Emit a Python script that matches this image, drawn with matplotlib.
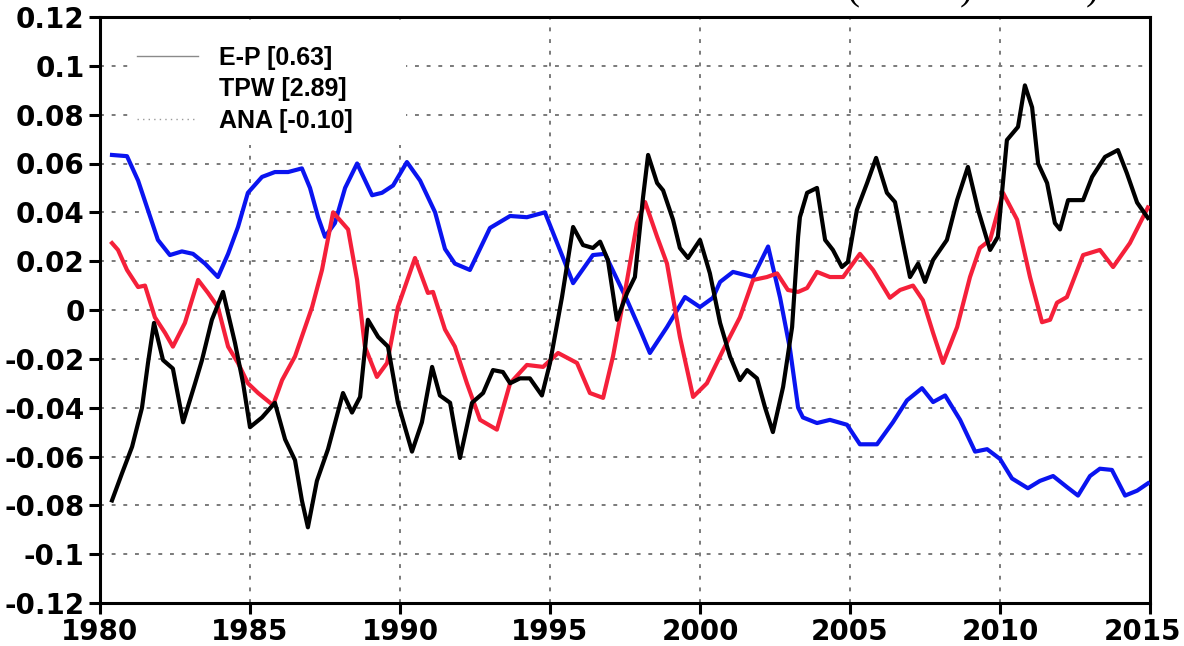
import matplotlib
matplotlib.use("Agg")
import matplotlib.pyplot as plt
import matplotlib.transforms as mtransforms
from matplotlib.lines import Line2D
from matplotlib.patches import Rectangle

# ---- data ----
blue_years = [1980.4, 1980.9, 1981.27, 1981.93, 1982.33, 1982.73, 1983.1, 1983.5, 1983.93,
              1984.27, 1984.6, 1984.93, 1985.4, 1985.83, 1986.27, 1986.73, 1987.0, 1987.27,
              1987.5, 1987.83, 1988.17, 1988.57, 1989.07, 1989.4, 1989.77, 1990.23, 1990.67,
              1991.17, 1991.5, 1991.83, 1992.33, 1993.0, 1993.67, 1994.23, 1994.83, 1995.33,
              1995.77, 1996.43, 1996.83, 1997.57, 1998.0, 1998.33, 1998.9, 1999.5, 2000.0,
              2000.43, 2000.67, 2001.1, 2001.77, 2002.27, 2002.67, 2003.0, 2003.27, 2003.43,
              2003.9, 2004.33, 2004.9, 2005.33, 2005.9, 2006.43, 2006.9, 2007.4, 2007.77,
              2008.17, 2008.67, 2009.17, 2009.57, 2010.0, 2010.4, 2010.93, 2011.33, 2011.77,
              2012.23, 2012.6, 2013.0, 2013.33, 2013.73, 2014.17, 2014.57, 2014.93]
blue_vals = [0.0635, 0.063, 0.053, 0.0287, 0.0225, 0.024, 0.023, 0.019, 0.0135,
             0.023, 0.034, 0.048, 0.0545, 0.0565, 0.0565, 0.058, 0.050, 0.038,
             0.030, 0.0356, 0.050, 0.060, 0.047, 0.048, 0.051, 0.0606, 0.053,
             0.040, 0.025, 0.019, 0.0164, 0.0336, 0.0385, 0.038, 0.040, 0.0246,
             0.011, 0.0225, 0.023, 0.004, -0.008, -0.0176, -0.007, 0.0053, 0.0012,
             0.005, 0.0115, 0.0156, 0.0135, 0.026, 0.005, -0.016, -0.040, -0.044,
             -0.0463, -0.045, -0.047, -0.055, -0.055, -0.046, -0.037, -0.032, -0.0377,
             -0.035, -0.045, -0.058, -0.057, -0.061, -0.069, -0.073, -0.070, -0.068,
             -0.0725, -0.076, -0.068, -0.065, -0.0655, -0.076, -0.074, -0.071]

red_years = [1980.4, 1980.6, 1980.9, 1981.27, 1981.5, 1981.83, 1982.17, 1982.43, 1982.83,
             1983.27, 1983.6, 1983.93, 1984.27, 1984.6, 1984.93, 1985.27, 1985.77, 1986.07,
             1986.5, 1987.07, 1987.4, 1987.77, 1988.27, 1988.57, 1988.83, 1989.23, 1989.57,
             1989.93, 1990.5, 1990.93, 1991.1, 1991.5, 1991.83, 1992.23, 1992.67, 1993.23,
             1993.67, 1994.23, 1994.77, 1995.27, 1995.9, 1996.33, 1996.77, 1997.1, 1997.57,
             1997.9, 1998.17, 1998.57, 1998.9, 1999.33, 1999.77, 2000.23, 2000.77, 2001.33,
             2001.77, 2002.23, 2002.57, 2002.93, 2003.27, 2003.57, 2003.9, 2004.33, 2004.77,
             2005.33, 2005.77, 2006.33, 2006.67, 2007.1, 2007.43, 2007.77, 2008.1, 2008.57,
             2009.0, 2009.33, 2009.67, 2010.1, 2010.57, 2011.0, 2011.4, 2011.67, 2011.9,
             2012.23, 2012.77, 2013.33, 2013.77, 2014.33, 2014.93]
red_vals = [0.0274, 0.0246, 0.0164, 0.0094, 0.010, -0.003, -0.0094, -0.015, -0.0053,
            0.0123, 0.007, 0.0012, -0.015, -0.0217, -0.030, -0.034, -0.039, -0.0287,
            -0.019, 0.0012, 0.0164, 0.040, 0.033, 0.0123, -0.015, -0.0274, -0.0217,
            0.0012, 0.0213, 0.007, 0.0074, -0.008, -0.015, -0.030, -0.045, -0.049,
            -0.030, -0.0225, -0.0233, -0.0176, -0.0217, -0.034, -0.036, -0.019, 0.0123,
            0.0356, 0.0442, 0.030, 0.019, -0.011, -0.0356, -0.030, -0.0164, -0.003,
            0.0123, 0.0135, 0.015, 0.0082, 0.0074, 0.009, 0.0156, 0.0135, 0.0135,
            0.023, 0.0164, 0.005, 0.0082, 0.010, 0.004, -0.0094, -0.0217, -0.007,
            0.0135, 0.0254, 0.0287, 0.048, 0.037, 0.0135, -0.005, -0.004, 0.003,
            0.0053, 0.0225, 0.0246, 0.0176, 0.0274, 0.042]

black_years = [1980.4, 1980.73, 1981.07, 1981.4, 1981.6, 1981.8, 1982.1, 1982.43, 1982.77,
               1983.17, 1983.4, 1983.73, 1984.1, 1984.5, 1984.77, 1985.0, 1985.4, 1985.83,
               1986.17, 1986.5, 1986.73, 1986.93, 1987.23, 1987.6, 1988.1, 1988.4, 1988.67,
               1988.93, 1989.27, 1989.6, 1989.93, 1990.4, 1990.73, 1991.07, 1991.33, 1991.67,
               1992.0, 1992.4, 1992.77, 1993.1, 1993.43, 1993.67, 1994.0, 1994.33, 1994.73,
               1995.0, 1995.4, 1995.77, 1996.1, 1996.43, 1996.67, 1996.93, 1997.23, 1997.57,
               1997.83, 1998.1, 1998.27, 1998.57, 1998.77, 1999.1, 1999.33, 1999.6, 2000.0,
               2000.33, 2000.67, 2001.0, 2001.33, 2001.57, 2001.9, 2002.17, 2002.43, 2002.77,
               2003.07, 2003.27, 2003.33, 2003.57, 2003.9, 2004.17, 2004.43, 2004.73, 2004.93,
               2005.23, 2005.57, 2005.87, 2006.23, 2006.5, 2006.77, 2007.0, 2007.27, 2007.5,
               2007.77, 2008.23, 2008.57, 2008.93, 2009.27, 2009.67, 2009.93, 2010.23, 2010.6,
               2010.83, 2011.07, 2011.27, 2011.57, 2011.83, 2012.0, 2012.27, 2012.77, 2013.07,
               2013.5, 2013.93, 2014.23, 2014.57, 2014.93]
black_vals = [-0.078, -0.067, -0.056, -0.040, -0.0217, -0.0053, -0.0205, -0.024, -0.046,
              -0.030, -0.0205, -0.004, 0.0074, -0.0135, -0.030, -0.048, -0.044, -0.038,
              -0.053, -0.0615, -0.078, -0.089, -0.070, -0.057, -0.034, -0.042, -0.0356,
              -0.004, -0.011, -0.015, -0.038, -0.058, -0.046, -0.0233, -0.035, -0.038,
              -0.0606, -0.038, -0.034, -0.0246, -0.0254, -0.030, -0.028, -0.028, -0.035,
              -0.0217, 0.0053, 0.034, 0.0266, 0.0254, 0.028, 0.0205, -0.004, 0.007,
              0.0135, 0.046, 0.0635, 0.052, 0.049, 0.037, 0.0254, 0.0213, 0.0287,
              0.015, -0.0053, -0.019, -0.0287, -0.0246, -0.028, -0.040, -0.050, -0.0315,
              -0.007, 0.030, 0.038, 0.048, 0.050, 0.0287, 0.0246, 0.0176, 0.0197,
              0.041, 0.052, 0.0623, 0.048, 0.0442, 0.0274, 0.0135, 0.019, 0.0115,
              0.0205, 0.0287, 0.045, 0.0586, 0.041, 0.0246, 0.030, 0.0696, 0.075,
              0.092, 0.083, 0.060, 0.052, 0.0356, 0.033, 0.045, 0.045, 0.0545,
              0.0627, 0.0655, 0.056, 0.044, 0.0377]

legend_labels = ["E-P [0.63]", "TPW [2.89]", "ANA [-0.10]"]
xticks = [1980, 1985, 1990, 1995, 2000, 2005, 2010, 2015]
yticks = [-0.12, -0.1, -0.08, -0.06, -0.04, -0.02, 0, 0.02, 0.04, 0.06, 0.08, 0.1, 0.12]
ytick_labels = ["-0.12", "-0.1", "-0.08", "-0.06", "-0.04", "-0.02", "0",
                "0.02", "0.04", "0.06", "0.08", "0.1", "0.12"]

fig = plt.figure(figsize=(11.84, 6.46), dpi=100)
ax = fig.add_axes([100 / 1184, 1 - 603 / 646, 1050 / 1184, 586 / 646])

ax.plot(blue_years, blue_vals, color="#0a14f0", lw=3, zorder=3)
ax.plot(red_years, red_vals, color="#f5203a", lw=3, zorder=3)
ax.plot(black_years, black_vals, color="black", lw=3, zorder=3)

ax.set_xlim(1980, 2015)
ax.set_ylim(-0.12, 0.12)
ax.set_xticks(xticks)
ax.set_xticklabels([str(t) for t in xticks])
ax.set_yticks(yticks)
ax.set_yticklabels(ytick_labels)
for lab in ax.get_xticklabels() + ax.get_yticklabels():
    lab.set_fontweight("bold")
    lab.set_fontsize(20)
    lab.set_family("DejaVu Sans")
ax.tick_params(axis="both", direction="out", length=8, width=2.2, pad=3)
for sp in ax.spines.values():
    sp.set_linewidth(2.2)

# the last year label sits against the right edge; shift it in by a few pixels
last = ax.xaxis.get_major_ticks()[-1].label1
last.set_transform(last.get_transform()
                   + mtransforms.ScaledTranslation(-8 / 100, 0, fig.dpi_scale_trans))

ax.grid(True, color="#7a7a7a", linestyle=(0, (2, 4)), linewidth=1.4)
ax.set_axisbelow(True)

# white patch behind the legend, hiding the grid there
ax.add_patch(Rectangle((0.0333, 0.7816), 0.2586, 0.2031, transform=ax.transAxes,
                       facecolor="white", edgecolor="none", zorder=1))

# legend with plain grey proxy handles, as in the original
handles = [Line2D([], [], color="#8a8a8a", lw=1),
           Line2D([], [], color="white", lw=1),
           Line2D([], [], color="#9a9a9a", lw=1, linestyle=(0, (1, 3)))]
leg = ax.legend(handles, legend_labels, loc="upper left",
                bbox_to_anchor=(0.0352, 0.951), frameon=False,
                prop={"family": "Liberation Sans", "weight": "bold", "size": 18},
                handlelength=2.45, handletextpad=0.84, labelspacing=0.3,
                borderpad=0, borderaxespad=0)

# bottom of a cut-off title above the plot
for xp, ch in [(853, "("), (966, ")"), (1092, ")")]:
    fig.text(xp / 1184, 1 + 1 / 646, ch, ha="center", va="baseline",
             family="Liberation Serif", fontsize=28)

fig.savefig("out.png", dpi=100)
